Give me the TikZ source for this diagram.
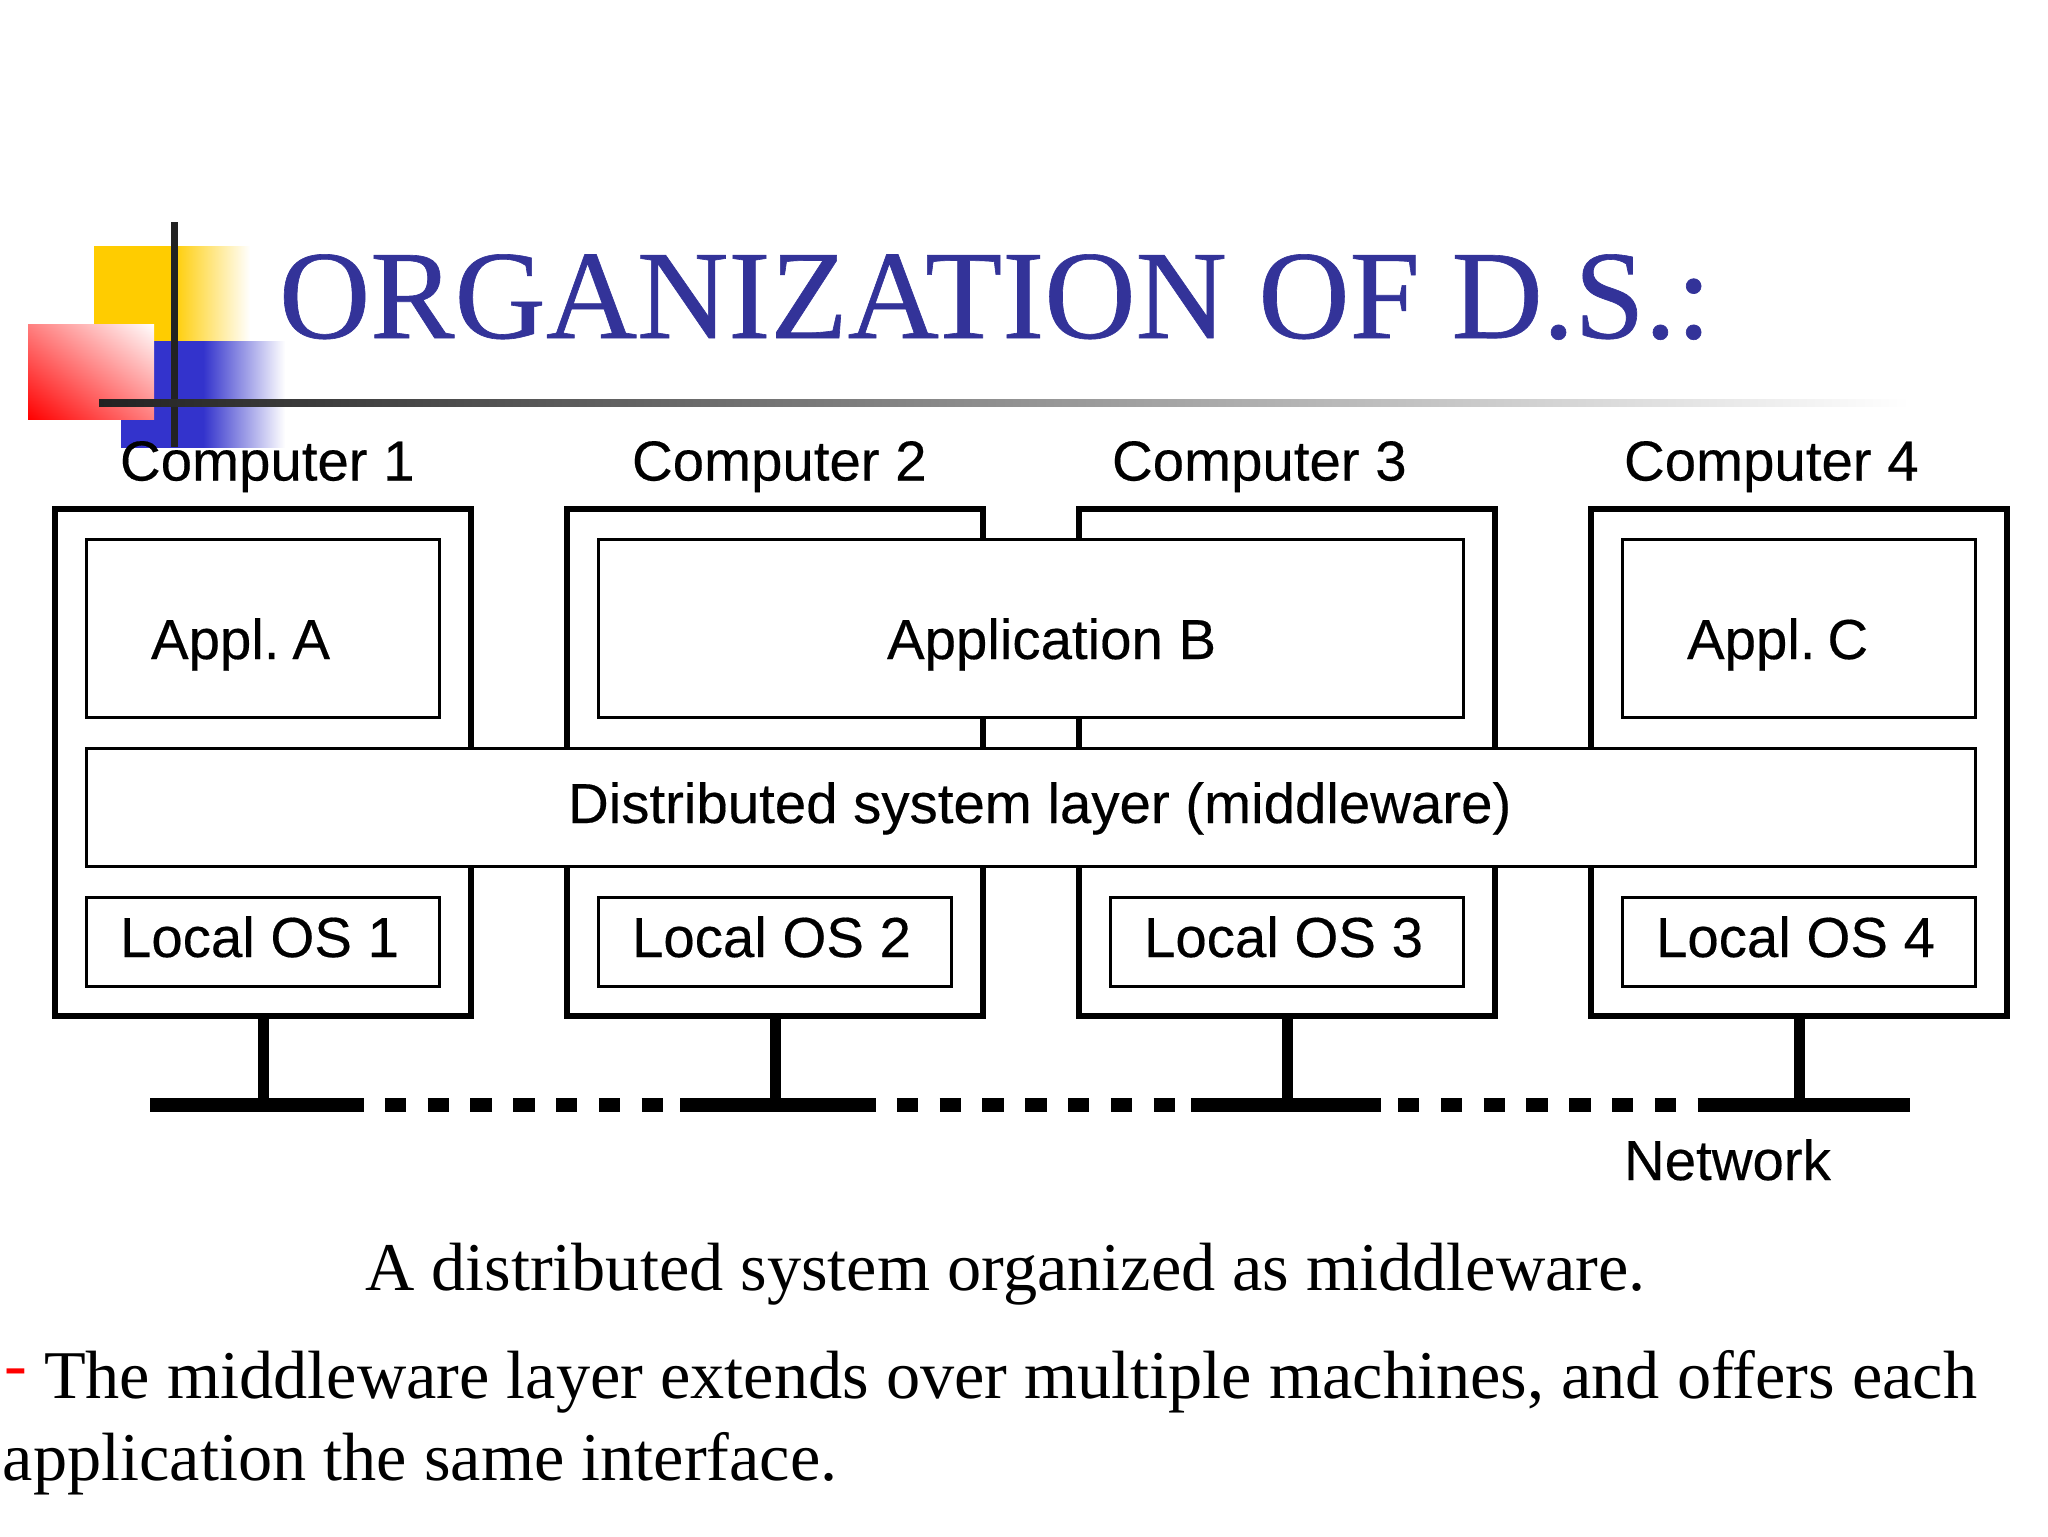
\documentclass[tikz,border=0pt]{standalone}
\usepackage{fontspec}
\setmainfont{Liberation Serif}
\newfontfamily\labelfont[FakeBold=0.3]{Liberation Sans}
\newfontfamily\titlefont[FakeBold=0.5]{Liberation Serif}
\usetikzlibrary{fit,shadings}
\definecolor{titleblue}{HTML}{333399}
\definecolor{bargold}{HTML}{FFCC00}
\definecolor{barblue}{HTML}{3333CC}
\definecolor{bardark}{HTML}{222222}
\pgfdeclarehorizontalshading{goldfade}{100bp}{color(0bp)=(bargold); color(50bp)=(bargold); color(75bp)=(white); color(100bp)=(white)}
\pgfdeclarehorizontalshading{bluefade}{100bp}{color(0bp)=(barblue); color(50bp)=(barblue); color(75bp)=(white); color(100bp)=(white)}
\pgfdeclarehorizontalshading{linefade}{100bp}{color(0bp)=(bardark); color(25bp)=(bardark); color(75bp)=(white); color(100bp)=(white)}
\tikzset{
  x=0.5pt,y=-0.5pt,
  every node/.style={inner sep=0pt,outer sep=0pt},
  computer/.style={draw=black,line width=3.4pt,fill=white},
  softbox/.style={draw=black,line width=1.5pt,fill=white},
  lbl/.style={anchor=base west,font=\labelfont\fontsize{28.2}{30}\selectfont,text=black},
  body/.style={anchor=base west,font=\fontsize{34.15}{36}\selectfont,text=black},
  netsolid/.style={fill=black},
  netdash/.style={line width=7pt,draw=black,dash pattern=on 10.7pt off 10.7pt,dash phase=11pt},
  drop/.style={line width=5.5pt,draw=black},
}
\begin{document}
\begin{tikzpicture}
\useasboundingbox (0,0) rectangle (2048,1536);
% logo
\shade[shading=goldfade] (94,246) rectangle (250,341);
\shade[shading=bluefade] (121,341) rectangle (285,447);
\shade[lower left=red,upper right=white,lower right=red!50!white,upper left=red!50!white] (28,324) rectangle (154,419);
\fill[bardark] (170.5,222) rectangle (177.5,447);
\shade[shading=linefade] (99,399) rectangle (1909,406.5);
% title
\node[anchor=base west,text=titleblue,font=\titlefont\fontsize{63.2}{70}\selectfont] (title) at (279,338) {ORGANIZATION OF D.S.:};
% computers
\node[computer,fit={(55,509)(471,1016)}] (c1) {};
\node[computer,fit={(567,509)(983,1016)}] (c2) {};
\node[computer,fit={(1079,509)(1495,1016)}] (c3) {};
\node[computer,fit={(1591,509)(2007,1016)}] (c4) {};
\node[lbl] (lc1) at (120,480.5) {Computer 1};
\node[lbl] (lc2) at (632,480.5) {Computer 2};
\node[lbl] (lc3) at (1112,480.5) {Computer 3};
\node[lbl] (lc4) at (1624,480.5) {Computer 4};
% applications
\node[softbox,fit={(86,539)(439,717)}] (appa) {};
\node[softbox,fit={(598,539)(1463,717)}] (appb) {};
\node[softbox,fit={(1622,539)(1975,717)}] (appc) {};
\node[lbl] (lappa) at (151,659) {Appl.\hspace{-4pt} A};
\node[lbl] (lappb) at (887,659) {Application B};
\node[lbl] (lappc) at (1687,659) {Appl.\hspace{-4.5pt} C};
% middleware
\node[softbox,fit={(86,748)(1975,866)}] (mw) {};
\node[lbl] (lmw) at (568,823) {Distributed system layer (middleware)};
% local OS
\node[softbox,fit={(86,897)(439,986)}] (os1) {};
\node[softbox,fit={(598,897)(951,986)}] (os2) {};
\node[softbox,fit={(1110,897)(1463,986)}] (os3) {};
\node[softbox,fit={(1622,897)(1975,986)}] (os4) {};
\node[lbl] (los1) at (120,957) {Local OS 1};
\node[lbl] (los2) at (632,957) {Local OS 2};
\node[lbl] (los3) at (1144,957) {Local OS 3};
\node[lbl] (los4) at (1656,957) {Local OS 4};
% network
\node[netsolid,fit={(150,1098)(364,1112)}] (n1) {};
\node[netsolid,fit={(680,1098)(876,1112)}] (n2) {};
\node[netsolid,fit={(1191,1098)(1381,1112)}] (n3) {};
\node[netsolid,fit={(1699,1098)(1910,1112)}] (n4) {};
\draw[netdash] (n1.east) -- (n2.west);
\draw[netdash] (n2.east) -- (n3.west);
\draw[netdash,dash phase=12.9pt] (n3.east) -- (n4.west);
\draw[drop] (c1.south) -- (c1.south |- n1.north);
\draw[drop] (c2.south) -- (c2.south |- n2.north);
\draw[drop] (c3.south) -- (c3.south |- n3.north);
\draw[drop] (c4.south) -- (c4.south |- n4.north);
\node[lbl] (lnet) at (1624,1180) {Network};
% text
\node[body] (caption) at (365,1290.5) {A distributed system organized as middleware.};
\node[anchor=base west,text=red,font=\fontsize{34.15}{36}\selectfont] (dash) at (4,1387) {-};
\node[body] (line1) at (44,1398.5) {The middleware layer extends over multiple machines, and offers each};
\node[body] (line2) at (3,1480) {application the same interface.};
\end{tikzpicture}
\end{document}
